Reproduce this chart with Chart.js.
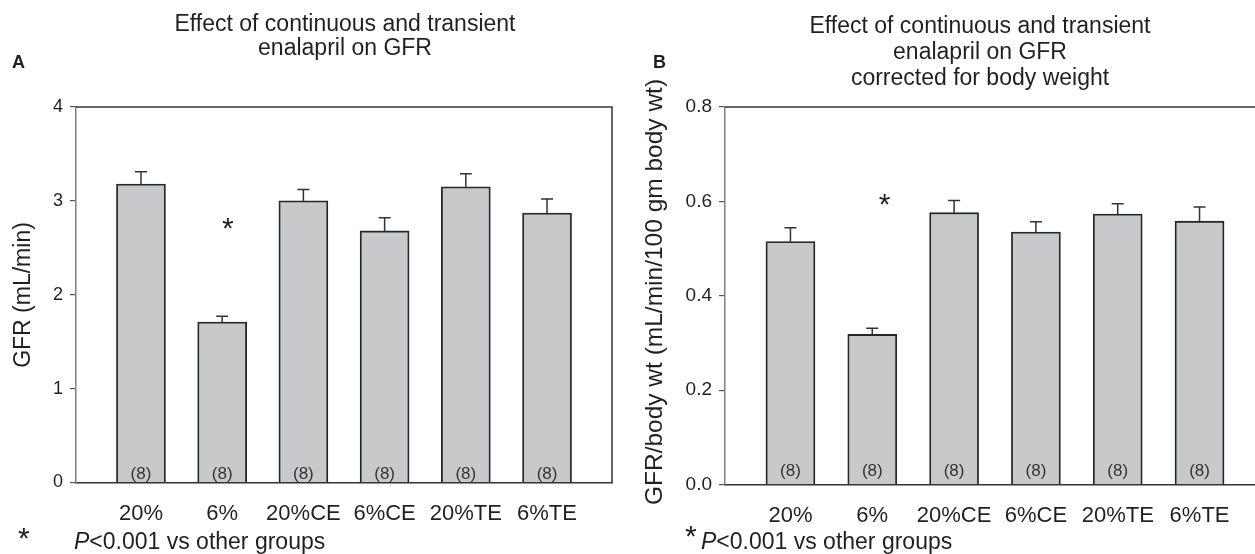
<!DOCTYPE html>
<html>
<head>
<meta charset="utf-8">
<script src="https://cdn.jsdelivr.net/npm/chart.js@4.4.1/dist/chart.umd.min.js"></script>
<style>
html,body{margin:0;padding:0;background:#fff;overflow:hidden;width:1255px;height:554px;}
.box{position:absolute;top:0;height:554px;}
#wa{left:0;width:640px;}
#wb{left:627px;width:660px;}
</style>
</head>
<body>
<div class="box" id="wa"><canvas id="ca"></canvas></div>
<div class="box" id="wb"><canvas id="cb"></canvas></div>
<script>
// ---- data ----
const categories = ["20%", "6%", "20%CE", "6%CE", "20%TE", "6%TE"];
const nLabels = ["(8)", "(8)", "(8)", "(8)", "(8)", "(8)"];

const gfrMean = [3.18, 1.71, 3.00, 2.68, 3.15, 2.87];
const gfrSem  = [0.13, 0.06, 0.12, 0.14, 0.14, 0.15];
const gfrTicks = [0, 1, 2, 3, 4];
const gfrStar = [1.07, 2.77];   // [category position, value]

const bwMean = [0.515, 0.318, 0.576, 0.535, 0.573, 0.558];
const bwSem  = [0.029, 0.013, 0.026, 0.022, 0.022, 0.030];
const bwTicks = [0, 0.2, 0.4, 0.6, 0.8];
const bwStar = [1.15, 0.605];

const titleA = ["Effect of continuous and transient", "enalapril on GFR"];
const titleB = ["Effect of continuous and transient", "enalapril on GFR", "corrected for body weight"];
const yTitleA = "GFR (mL/min)";
const yTitleB = "GFR/body wt (mL/min/100 gm body wt)";
const noteText = "<0.001 vs other groups";

const FONT = "'Liberation Sans', Arial, Helvetica, sans-serif";
const INK = "#231f20";

function makeChart(canvasId, cfg) {
  const ctxEl = document.getElementById(canvasId);
  const decor = {
    id: 'decor',
    afterDatasetsDraw(chart) {
      const ctx = chart.ctx;
      const xs = chart.scales.x, ys = chart.scales.y;
      const area = chart.chartArea;
      ctx.save();
      // error bars (upper only)
      ctx.strokeStyle = "#333";
      ctx.lineWidth = 1.5;
      cfg.mean.forEach((m, i) => {
        const x = xs.getPixelForValue(i);
        const y0 = ys.getPixelForValue(m);
        const y1 = ys.getPixelForValue(m + cfg.sem[i]);
        ctx.beginPath();
        ctx.moveTo(x, y0); ctx.lineTo(x, y1);
        ctx.moveTo(x - 6, y1); ctx.lineTo(x + 6, y1);
        ctx.stroke();
      });
      // n labels
      ctx.fillStyle = "#333";
      ctx.font = "17px " + FONT;
      ctx.textAlign = "center";
      ctx.textBaseline = "middle";
      cfg.n.forEach((t, i) => {
        ctx.fillText(t, xs.getPixelForValue(i), ys.getPixelForValue(0) + cfg.nOffset);
      });
      // star
      ctx.fillStyle = INK;
      ctx.font = "30px " + FONT;
      ctx.fillText("*", xs.getPixelForValue(cfg.star[0]), ys.getPixelForValue(cfg.star[1]) + 7);
      // box lines
      ctx.strokeStyle = "#333";
      ctx.lineWidth = 1.5;
      ctx.beginPath();
      ctx.moveTo(area.left, area.top); ctx.lineTo(area.right, area.top);
      ctx.lineTo(area.right, ys.getPixelForValue(0));
      ctx.stroke();
      ctx.restore();
    },
    afterDraw(chart) {
      const ctx = chart.ctx;
      ctx.save();
      ctx.fillStyle = INK;
      // title
      ctx.font = cfg.titleSize + "px " + FONT;
      ctx.textAlign = "center";
      ctx.textBaseline = "alphabetic";
      cfg.title.forEach((t, i) => ctx.fillText(t, cfg.titleX, cfg.titleY + i * cfg.titleGap));
      // panel letter
      ctx.font = "bold 18px " + FONT;
      ctx.textAlign = "left";
      ctx.fillText(cfg.letter, cfg.letterX, 68);
      // y title
      ctx.save();
      ctx.translate(cfg.yTitleX, cfg.yTitleY);
      ctx.rotate(-Math.PI / 2);
      ctx.font = cfg.yTitleSize + "px " + FONT;
      ctx.textAlign = "center";
      ctx.textBaseline = "middle";
      ctx.fillText(cfg.yTitle, 0, 0);
      ctx.restore();
      // footnote
      ctx.textBaseline = "alphabetic";
      ctx.font = "30px " + FONT;
      ctx.textAlign = "left";
      ctx.fillText("*", cfg.noteStarX, cfg.noteStarY);
      ctx.font = "italic 23px " + FONT;
      ctx.fillText("P", cfg.noteX, 549);
      const w = ctx.measureText("P").width;
      ctx.font = "23px " + FONT;
      ctx.fillText(noteText, cfg.noteX + w, 549);
      ctx.restore();
    }
  };
  return new Chart(ctxEl, {
    type: 'bar',
    data: {
      datasets: [{
        data: cfg.mean.map((v, i) => ({ x: i, y: v })),
        backgroundColor: "#c8c9cb",
        borderColor: "#262626",
        borderWidth: 1.8,
        borderSkipped: 'bottom',
        barThickness: 49
      }]
    },
    options: {
      responsive: true,
      maintainAspectRatio: false,
      animation: false,
      events: [],
      layout: { padding: { top: 107, right: cfg.padRight, left: 0, bottom: 0 } },
      plugins: { legend: { display: false }, tooltip: { enabled: false }, title: { display: false } },
      scales: {
        x: {
          type: 'linear',
          offset: false,
          min: -0.8, max: 5.8,
          afterBuildTicks: (s) => { s.ticks = categories.map((_, i) => ({ value: i })); },
          afterFit: (s) => { s.height = cfg.xHeight; },
          ticks: {
            callback: (v) => categories[v] || "",
            font: { family: FONT, size: 22 },
            color: INK,
            padding: 10,
            maxRotation: 0,
            autoSkip: false
          },
          grid: { display: false },
          border: { display: true, color: "#333", width: 1.5 }
        },
        y: {
          min: 0, max: cfg.ticks[cfg.ticks.length - 1],
          afterBuildTicks: (s) => { s.ticks = cfg.ticks.map(v => ({ value: v })); },
          afterFit: (s) => { s.width = cfg.yWidth; },
          ticks: {
            callback: cfg.tickFmt,
            font: { family: FONT, size: cfg.tickSize },
            color: INK,
            padding: 7
          },
          grid: { drawOnChartArea: false, drawTicks: true, tickLength: 6, color: "#555", lineWidth: 1.2 },
          border: { display: true, color: "#808080", width: 1.5 }
        }
      }
    },
    plugins: [decor]
  });
}

makeChart('ca', {
  mean: gfrMean, sem: gfrSem, ticks: gfrTicks, star: gfrStar, n: nLabels, nOffset: -8,
  tickFmt: (v) => String(v), tickSize: 18,
  title: titleA, titleX: 345, titleY: 31, titleGap: 24, titleSize: 23,
  letter: "A", letterX: 12,
  yTitle: yTitleA, yTitleX: 24, yTitleY: 295, yTitleSize: 23,
  noteStarX: 18, noteStarY: 548, noteX: 74,
  yWidth: 76, xHeight: 71.5, padRight: 28
});

makeChart('cb', {
  mean: bwMean, sem: bwSem, ticks: bwTicks, star: bwStar, n: nLabels, nOffset: -13,
  tickFmt: (v) => Number(v).toFixed(1), tickSize: 19,
  title: titleB, titleX: 980 - 627, titleY: 33, titleGap: 26, titleSize: 23,
  letter: "B", letterX: 653 - 627,
  yTitle: yTitleB, yTitleX: 655 - 627, yTitleY: 292, yTitleSize: 24.5,
  noteStarX: 685 - 627, noteStarY: 546, noteX: 701 - 627,
  yWidth: 98, xHeight: 69.5, padRight: 22
});
</script>
</body>
</html>
